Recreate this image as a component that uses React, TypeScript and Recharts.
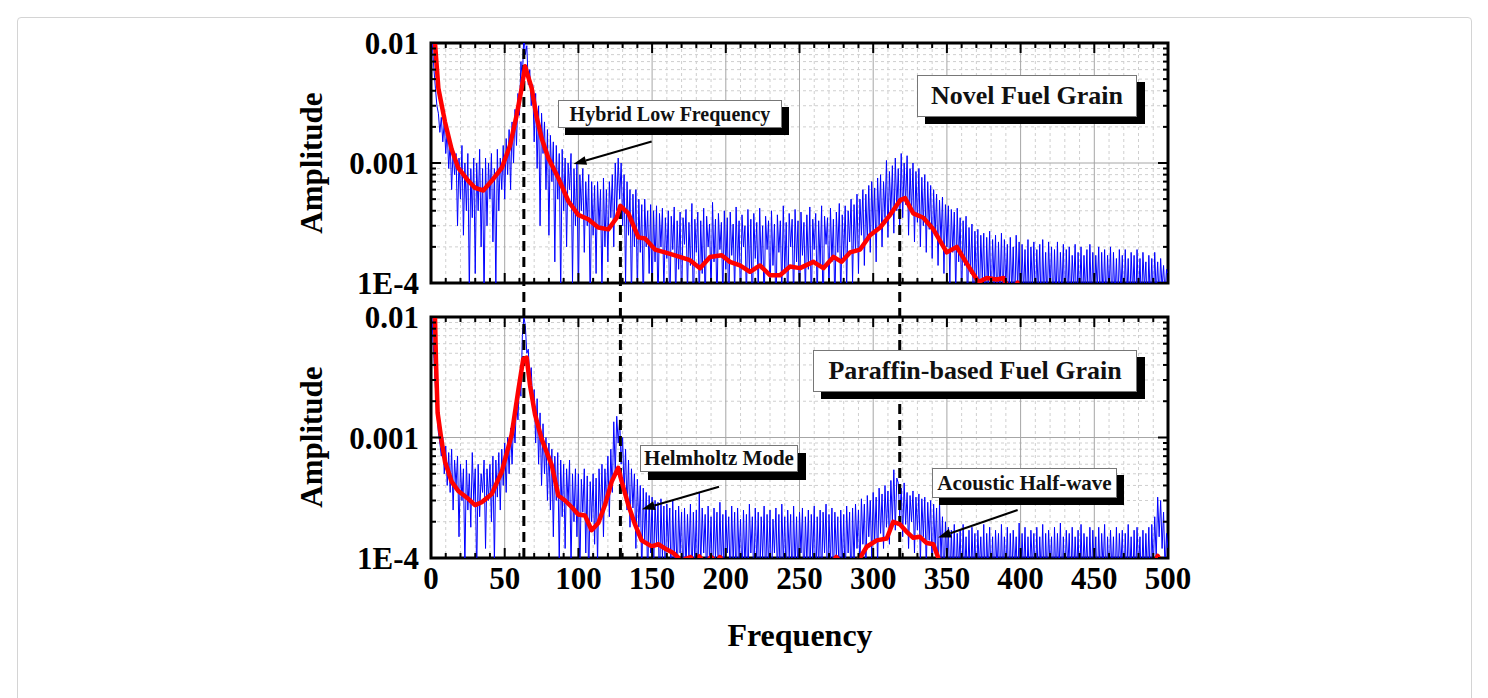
import React from "react";
import {
  LineChart,
  Line,
  XAxis,
  YAxis,
  CartesianGrid,
  ReferenceLine,
  ReferenceArea,
} from "recharts";

const FONT = '"Liberation Serif", "Times New Roman", serif';
const UNIT = 1e-4;

// raw spectra, one value per 1 Hz bin from 0 to 500 Hz, amplitude in units of 1E-4
const novelSpectrum = [
  140, 95, 60, 42, 30, 26, 18, 24, 15, 22,
  12, 19, 9, 15, 6, 13, 8, 12, 3, 11,
  5, 14, 2.5, 10, 4, 12, 0.8, 9, 3.5, 11,
  1.2, 10, 4, 13, 2, 9, 0.7, 11, 3, 10,
  5, 12, 2.2, 9, 0.9, 13, 4, 11, 6, 14,
  5, 16, 8, 19, 6, 22, 10, 28, 14, 38,
  25, 70, 50, 120, 80, 95, 45, 60, 30, 45,
  15, 38, 9, 30, 3, 26, 12, 22, 6, 19,
  2.5, 17, 7, 15, 1.5, 14, 5, 12, 0.8, 13,
  4, 11, 2, 10, 6, 12, 1, 9, 3, 10,
  0.7, 8, 4, 9, 1.8, 7, 3, 8, 0.6, 7,
  2.5, 6.5, 1.2, 7, 3, 6, 0.8, 7.5, 2, 6,
  1.5, 7, 3.5, 8, 2, 10, 4, 11, 5, 10,
  3, 8, 1, 7, 2.5, 6, 0.7, 5.5, 2, 6,
  0.8, 5, 1.8, 4.5, 0.6, 5, 2, 4, 1.2, 4.5,
  0.7, 4, 1.5, 4.4, 0.6, 3.8, 2, 4.2, 0.8, 3.5,
  1.6, 4, 0.5, 3.6, 1.9, 4.3, 0.7, 3.3, 1.3, 3.9,
  0.6, 3.5, 2.1, 4.1, 0.8, 3.2, 1.4, 4.6, 0.5, 3.4,
  1.8, 3.9, 0.7, 3.3, 1.2, 4.2, 0.6, 3.6, 2, 3.1,
  0.8, 4.7, 1.5, 3.4, 0.6, 3.8, 1.9, 3.2, 0.7, 4,
  1.3, 3.5, 0.5, 3.9, 1.7, 3.1, 0.8, 4.3, 1.4, 3.3,
  0.6, 3.7, 2, 3, 0.7, 4.1, 1.2, 3.4, 0.5, 3.8,
  1.6, 3.2, 0.8, 4.2, 1.3, 3, 0.6, 3.6, 1.9, 3.3,
  0.7, 4, 1.4, 3.1, 0.5, 3.7, 1.8, 3.3, 0.8, 4.4,
  1.2, 3.2, 0.6, 3.8, 2, 3.4, 0.7, 4.1, 1.5, 3.3,
  0.5, 3.9, 1.7, 3.2, 0.8, 3.7, 1.3, 4.3, 0.6, 3.4,
  1.9, 3.8, 0.7, 3.3, 1.4, 4.4, 0.5, 3.6, 2.1, 3.5,
  0.8, 4.2, 1.5, 3.4, 0.6, 3.9, 1.8, 4.6, 0.7, 3.7,
  1.6, 4.4, 0.9, 4, 2.2, 5, 1, 4.5, 1.8, 5.5,
  1.2, 5, 2.5, 6, 1.4, 5.5, 2.2, 6.5, 1.8, 7,
  2.6, 6.2, 1.5, 7.5, 3, 8, 2, 7, 3.5, 10.5,
  2.4, 8.5, 3.8, 9.5, 2.6, 11, 4, 9, 2.8, 12,
  3.5, 10, 4.5, 11.5, 2.5, 9, 3.8, 10, 2.2, 8.5,
  3.2, 9, 2, 7.6, 3, 8, 1.8, 7, 2.8, 6.5,
  1.6, 6, 2.5, 5.5, 1.4, 4.9, 2.2, 5.2, 1.2, 4.5,
  2, 4.4, 1, 4.1, 1.8, 3.9, 0.8, 4.2, 1.5, 3.5,
  0.7, 3.3, 1.4, 3.6, 0.6, 2.9, 1.2, 3.1, 0.5, 2.7,
  1, 2.8, 0.6, 2.5, 1.1, 2.6, 0.5, 2.4, 0.9, 2.7,
  0.6, 2.3, 1, 2.5, 0.5, 2.2, 0.8, 2.6, 0.6, 2.3,
  0.9, 2.1, 0.5, 2.4, 0.8, 2, 0.6, 2.5, 0.9, 2.2,
  0.5, 2.1, 0.8, 1.9, 0.6, 2.3, 0.5, 2, 0.9, 2.2,
  0.6, 1.9, 0.8, 2.1, 0.5, 2.3, 0.7, 1.8, 0.6, 2.2,
  0.9, 2, 0.5, 1.9, 0.7, 2.2, 0.6, 1.8, 0.8, 2.1,
  0.5, 1.9, 0.7, 2, 0.6, 1.7, 0.9, 2.1, 0.5, 1.8,
  0.7, 2, 0.6, 1.7, 0.8, 1.9, 0.5, 2.1, 0.7, 1.8,
  0.6, 1.7, 0.9, 2, 0.5, 1.8, 0.7, 1.9, 0.6, 1.7,
  0.8, 2, 0.5, 1.8, 0.7, 1.6, 0.6, 1.9, 0.8, 1.7,
  0.5, 1.9, 0.7, 1.6, 0.6, 1.8, 0.8, 1.7, 0.5, 1.9,
  0.7, 1.6, 0.6, 1.8, 0.9, 1.5, 0.5, 1.7, 0.7, 1.6,
  0.6, 1.8, 0.8, 1.5, 0.7, 1.6, 0.9, 1.4, 0.8, 1.3,
  1.1,
];

const paraffinSpectrum = [
  140, 80, 45, 26, 16, 11, 9, 7, 10, 5,
  8.5, 4, 7.5, 3.5, 8, 2.5, 6.5, 4, 7, 1.5,
  6, 3, 5.5, 0.8, 6.5, 2.5, 5, 1.8, 7.5, 3,
  5.5, 0.7, 6, 2.2, 5, 3.5, 6.5, 1.2, 5.5, 3,
  6, 2, 7, 0.9, 6.5, 3.2, 7.5, 2.5, 8, 4,
  9, 3.5, 10, 5, 12, 6, 13.5, 9, 20, 14,
  30, 22, 70, 100, 85, 50, 54, 30, 38, 18,
  25, 9, 21, 6, 16, 4, 13, 5, 10, 3,
  9, 2.5, 8, 1.5, 7, 3, 7.5, 0.9, 6.5, 2.2,
  6, 1.2, 5.5, 2.8, 6.5, 0.8, 5, 2, 5.5, 1.5,
  5, 0.7, 4.5, 2.4, 5.5, 1.1, 4.8, 0.6, 4.3, 2,
  5, 1.3, 4.6, 0.9, 5.5, 2.2, 6, 1.5, 5.5, 2.8,
  7, 2.2, 8, 3.5, 13.5, 5, 15, 9, 14, 6,
  10, 3.5, 8, 2.5, 6.5, 1.8, 5.5, 2.6, 5, 1.2,
  4.5, 1.8, 4, 0.7, 3.8, 1.4, 3.5, 0.6, 3.3, 1.1,
  3.2, 0.7, 3, 1.3, 2.9, 0.5, 3.1, 1, 2.7, 0.6,
  2.8, 1.2, 2.6, 0.5, 3, 0.9, 2.5, 0.6, 2.7, 1.1,
  2.4, 0.5, 2.6, 0.8, 2.3, 1, 2.8, 0.6, 2.4, 0.9,
  2.5, 0.5, 3.5, 0.8, 2.6, 1.1, 2.3, 0.6, 2.7, 0.9,
  2.2, 0.5, 2.6, 1, 2.4, 0.6, 2.9, 0.8, 2.3, 0.5,
  2.5, 1.1, 2.2, 0.6, 2.7, 0.9, 2.4, 0.5, 2.6, 1,
  2.1, 0.6, 2.5, 0.8, 2.3, 0.5, 2.8, 1.1, 2.2, 0.6,
  2.6, 0.9, 2.4, 0.5, 2.2, 1, 2.7, 0.6, 2.3, 0.8,
  2.5, 0.5, 2.1, 1.1, 2.6, 0.7, 2.3, 0.5, 2.8, 0.9,
  2.2, 0.6, 2.5, 1, 2.3, 0.5, 2.7, 0.8, 2.2, 0.6,
  2.4, 1.1, 2.6, 0.5, 2.2, 0.9, 2.5, 0.6, 2.3, 1,
  2.7, 0.5, 2.2, 0.8, 2.5, 0.6, 2.4, 1.1, 2.8, 0.5,
  2.3, 0.9, 2.6, 0.6, 2.4, 1, 2.2, 0.5, 2.5, 0.8,
  2.3, 0.6, 2.7, 1.1, 2.4, 0.5, 2.6, 0.9, 2.8, 1.2,
  2.5, 0.8, 3.1, 1.3, 2.8, 0.7, 3.3, 1.5, 3, 1,
  3.5, 1.4, 3.2, 0.9, 3.8, 1.6, 3.4, 1.2, 4, 1.8,
  3.6, 1.3, 4.4, 2, 5.4, 1.7, 4.6, 4.2, 2.2, 3.8,
  1.5, 4.2, 1.9, 3.5, 1.2, 3.3, 2, 3.6, 1.1, 3.2,
  1.7, 3.4, 0.9, 3.1, 1.5, 3.2, 0.8, 2.9, 1.4, 3,
  0.7, 2.8, 1.2, 2.6, 0.6, 2.9, 1, 2.2, 0.5, 2,
  0.8, 1.8, 0.5, 1.7, 0.7, 1.9, 0.5, 1.6, 0.8, 1.7,
  0.5, 1.9, 0.7, 1.5, 0.6, 1.7, 0.5, 1.8, 0.7, 1.6,
  0.5, 1.7, 0.8, 1.5, 0.6, 1.9, 0.5, 1.6, 0.7, 1.8,
  0.6, 1.5, 0.5, 1.7, 0.8, 1.6, 0.5, 1.9, 0.6, 1.5,
  0.7, 1.8, 0.5, 1.6, 0.6, 1.7, 0.8, 1.5, 0.5, 1.95,
  0.6, 1.6, 0.7, 1.8, 0.5, 1.5, 0.6, 1.7, 0.8, 1.6,
  0.5, 1.8, 0.6, 1.5, 0.7, 1.9, 0.5, 1.6, 0.6, 1.7,
  0.8, 1.5, 0.5, 1.8, 0.6, 1.6, 0.7, 1.95, 0.5, 1.5,
  0.6, 1.7, 0.8, 1.6, 0.5, 1.8, 0.6, 1.5, 0.7, 1.7,
  0.5, 1.9, 0.6, 1.6, 0.8, 1.5, 0.5, 1.8, 0.6, 1.7,
  0.7, 1.5, 0.5, 1.8, 0.6, 1.6, 0.8, 1.9, 0.5, 1.5,
  0.6, 1.7, 0.7, 1.5, 0.5, 1.8, 0.6, 1.6, 0.8, 1.7,
  0.5, 1.6, 0.6, 1.9, 0.7, 1.5, 0.5, 1.7, 0.6, 1.8,
  0.8, 1.5, 0.5, 1.7, 0.6, 1.6, 0.7, 1.8, 0.5, 1.9,
  0.8, 2.2, 1, 3.2, 1.5, 3, 1.2, 2.4, 0.8, 1.6,
  1.2,
];

// smoothed curves (red), frequency in Hz and amplitude in units of 1E-4
const novelSmoothFreq = [
  1, 2.7, 5, 9.5, 14, 18.5, 25.3, 29.9, 35.5, 41.2, 48, 53.6, 58.1, 61.5, 63.8,
  68.3, 71.7, 75.1, 79.6, 86.4, 93.2, 99.9, 106.7, 113.5, 120.3, 126, 128.5,
  133.9, 140.7, 145.2, 152, 158.7, 165.5, 175.7, 182.5, 189.3, 197.2, 202.8,
  209.6, 216.4, 223.2, 230, 236.8, 243.5, 250.3, 259.4, 266.2, 273, 278.6,
  284.3, 291.1, 297.9, 304.7, 311.5, 318.3, 321.6, 327.2, 334, 340.8, 349.9,
  356.7, 363.5, 371.4, 377.1, 383.9, 388.4, 390.7, 396, 398, 401, 440, 500,
];
const novelSmoothAmp = [
  130, 100, 42, 22, 13, 9.1, 7.1, 6.2, 5.9, 7.1, 9.1, 14, 25, 42, 64,
  42, 24, 16, 11, 7.5, 4.8, 3.7, 3.4, 2.9, 2.8, 3.5, 4.4,
  3.8, 2.4, 2.35, 1.9, 1.8, 1.7, 1.55, 1.33, 1.65, 1.7, 1.5,
  1.4, 1.24, 1.4, 1.16, 1.16, 1.37, 1.33, 1.5, 1.33, 1.65, 1.5,
  1.8, 1.9, 2.5, 2.9, 3.7, 4.9, 5.1, 3.8, 3.5, 2.8, 1.8,
  2.0, 1.45, 1.02, 1.1, 1.07, 1.1, 0.95, 0.9, 1.01, 0.85, 0.7, 0.7,
];

const paraffinSmoothFreq = [
  1, 2.7, 3.4, 4.5, 7, 9.5, 14, 18.5, 25.3, 29.9, 34.4, 41.2, 48, 54.7, 59.3,
  62.6, 64.9, 67.2, 70.6, 75.1, 81.9, 86.4, 90.9, 95.4, 99.9, 104.5, 109,
  113.5, 118, 122.6, 127, 129.4, 133.9, 138.4, 142.9, 149.7, 154.2, 158.7,
  164.4, 170, 176, 179, 182, 186, 190, 194, 196, 200, 230, 270, 275, 280,
  287, 291, 295.6, 302.4, 309.2, 313.6, 318.2, 322.7, 327.2, 331.7, 336.3,
  340.8, 344.2, 348, 400, 480, 490, 493, 496, 500,
];
const paraffinSmoothAmp = [
  160, 100, 42, 16, 9.7, 6.3, 4.3, 3.6, 3.1, 2.75, 2.9, 3.4, 5.2, 10.5, 25,
  45, 46, 27, 15.5, 9.7, 5.9, 3.3, 3.0, 2.65, 2.3, 2.25, 1.7,
  1.95, 2.75, 4.3, 5.6, 4.3, 2.75, 1.9, 1.4, 1.25, 1.3, 1.2,
  1.1, 0.95, 1.02, 0.9, 1.03, 0.9, 1.02, 0.9, 1.02, 0.85, 0.8, 0.85, 1.02, 0.85,
  0.9, 1.0, 1.24, 1.4, 1.45, 2.0, 1.9, 1.65, 1.47, 1.5, 1.33,
  1.3, 1.0, 0.75, 0.7, 0.75, 0.85, 1.04, 0.9, 0.8,
];

const xMajorTicks = [0, 50, 100, 150, 200, 250, 300, 350, 400, 450, 500];
const xMinorTicks = [
  10, 20, 30, 40, 60, 70, 80, 90, 110, 120, 130, 140, 160, 170, 180, 190,
  210, 220, 230, 240, 260, 270, 280, 290, 310, 320, 330, 340, 360, 370, 380,
  390, 410, 420, 430, 440, 460, 470, 480, 490,
];
const yMajorTicks = [1e-4, 1e-3, 1e-2];
const yMajorLabels = ["1E-4", "0.001", "0.01"];
const yMinorTicks = [
  2e-4, 3e-4, 4e-4, 5e-4, 6e-4, 7e-4, 8e-4, 9e-4,
  2e-3, 3e-3, 4e-3, 5e-3, 6e-3, 7e-3, 8e-3, 9e-3,
];

// dashed mode markers: frequency, and where the marker starts in the upper panel (units of 1E-4)
const modeFreqs = [63, 128.5, 318];
const modeTopInNovel = [100, 4.4, 5];

// arrows: [fromFreq, fromAmp, toFreq, toAmp] (amp in units of 1E-4)
const novelArrows = [[149.7, 15.1, 96.6, 9.8]];
const paraffinArrows = [
  [195.4, 3.9, 143.1, 2.54],
  [398, 2.5, 344, 1.48],
];

// layout
const PLOT_L = 431;
const PLOT_R = 1168;
const TOP1 = 43;
const BOT1 = 283;
const TOP2 = 317;
const BOT2 = 558;
const PLOT_W = PLOT_R - PLOT_L;
const GAP_TOP_VALUE = 1e-2 * Math.pow(10, (TOP2 - BOT1) / ((BOT2 - TOP2) / 2));

const toSpectrum = (vals: number[]) => vals.map((v, i) => ({ f: i, a: v * UNIT }));
const toSmooth = (fs: number[], as: number[]) => fs.map((f, i) => ({ f, a: as[i] * UNIT }));

const novelRaw = toSpectrum(novelSpectrum);
const paraffinRaw = toSpectrum(paraffinSpectrum);
const novelSmooth = toSmooth(novelSmoothFreq, novelSmoothAmp);
const paraffinSmooth = toSmooth(paraffinSmoothFreq, paraffinSmoothAmp);

const xAllTicks = [...xMajorTicks, ...xMinorTicks].sort((a, b) => a - b);
const yAllTicks = [...yMajorTicks, ...yMinorTicks].sort((a, b) => a - b);

const XTick = (props: any) => {
  const { x, y, payload, plotHeight, showLabel } = props;
  const v = payload.value;
  const major = xMajorTicks.includes(v);
  const len = major ? 10 : 5;
  const top = y - plotHeight;
  return (
    <g>
      <line x1={x} y1={y} x2={x} y2={y - len} stroke="#000" strokeWidth={2} />
      <line x1={x} y1={top} x2={x} y2={top + len} stroke="#000" strokeWidth={2} />
      {showLabel && major && (
        <text x={x} y={y + 31} textAnchor="middle" fontFamily={FONT} fontWeight="bold" fontSize={31} fill="#000">
          {v}
        </text>
      )}
    </g>
  );
};

const YTick = (props: any) => {
  const { x, y, payload } = props;
  const v = payload.value;
  const idx = yMajorTicks.findIndex((t) => Math.abs(t - v) < v * 1e-6);
  const len = idx >= 0 ? 10 : 5;
  return (
    <g>
      <line x1={x} y1={y} x2={x + len} y2={y} stroke="#000" strokeWidth={2} />
      <line x1={x + PLOT_W} y1={y} x2={x + PLOT_W - len} y2={y} stroke="#000" strokeWidth={2} />
      {idx >= 0 && (
        <text x={x - 12} y={y + 11} textAnchor="end" fontFamily={FONT} fontWeight="bold" fontSize={31} fill="#000">
          {yMajorLabels[idx]}
        </text>
      )}
    </g>
  );
};

const Arrow = (props: any) => {
  const { x1, y1, x2, y2 } = props;
  const ang = Math.atan2(y2 - y1, x2 - x1);
  const L = 13;
  const W = 4.5;
  const bx = x2 - L * Math.cos(ang);
  const by = y2 - L * Math.sin(ang);
  const pts = `${x2},${y2} ${bx - W * Math.sin(ang)},${by + W * Math.cos(ang)} ${bx + W * Math.sin(ang)},${by - W * Math.cos(ang)}`;
  return (
    <g>
      <line x1={x1} y1={y1} x2={bx} y2={by} stroke="#000" strokeWidth={2} />
      <polygon points={pts} fill="#000" />
    </g>
  );
};

function Panel({
  raw,
  smooth,
  arrows,
  height,
  top,
  bottom,
  showXLabels,
  modeTops,
  gapLines,
}: any) {
  const plotHeight = bottom - top;
  return (
    <LineChart
      width={1488}
      height={height}
      margin={{ top, right: 1488 - PLOT_R, left: 0, bottom: 0 }}
    >
      <CartesianGrid
        stroke="#cfcfcf"
        strokeDasharray="3 3"
        verticalValues={xMinorTicks}
        horizontalValues={yMinorTicks}
      />
      <CartesianGrid stroke="#a6a6a6" verticalValues={xMajorTicks.slice(1, -1)} horizontalValues={[1e-3]} />
      <XAxis
        dataKey="f"
        type="number"
        domain={[0, 500]}
        allowDataOverflow
        ticks={xAllTicks}
        interval={0}
        height={height - bottom}
        axisLine={false}
        tickLine={false}
        tickSize={0}
        tickMargin={0}
        tick={<XTick plotHeight={plotHeight} showLabel={showXLabels} />}
      />
      <YAxis
        dataKey="a"
        scale="log"
        type="number"
        domain={[1e-4, 1e-2]}
        allowDataOverflow
        ticks={yAllTicks}
        interval={0}
        width={PLOT_L}
        axisLine={false}
        tickLine={false}
        tickSize={0}
        tickMargin={0}
        tick={<YTick />}
      />
      <Line
        data={raw}
        dataKey="a"
        type="linear"
        stroke="#0000ff"
        strokeWidth={1}
        dot={false}
        isAnimationActive={false}
      />
      {modeFreqs.map((f, i) =>
        modeTops ? (
          <ReferenceLine
            key={`m${i}`}
            segment={[
              { x: f, y: 1e-4 },
              { x: f, y: modeTops[i] * UNIT },
            ]}
            stroke="#000"
            strokeWidth={3}
            strokeDasharray="10 6"
            ifOverflow="visible"
          />
        ) : null
      )}
      {gapLines &&
        modeFreqs.map((f, i) => (
          <ReferenceLine
            key={`g${i}`}
            segment={[
              { x: f, y: 1e-4 },
              { x: f, y: GAP_TOP_VALUE },
            ]}
            stroke="#000"
            strokeWidth={3}
            strokeDasharray="10 6"
            ifOverflow="visible"
          />
        ))}
      <Line
        data={smooth}
        dataKey="a"
        type="linear"
        stroke="#ff0000"
        strokeWidth={4.5}
        strokeLinejoin="round"
        dot={false}
        isAnimationActive={false}
      />
      <ReferenceArea
        x1={0}
        x2={500}
        y1={1e-4}
        y2={1e-2}
        fill="none"
        fillOpacity={0}
        stroke="#000"
        strokeWidth={3}
        ifOverflow="visible"
      />
      {arrows.map((a: number[], i: number) => (
        <ReferenceLine
          key={`a${i}`}
          segment={[
            { x: a[0], y: a[1] * UNIT },
            { x: a[2], y: a[3] * UNIT },
          ]}
          shape={Arrow}
          ifOverflow="visible"
        />
      ))}
    </LineChart>
  );
}

const boxStyle = (left: number, top: number, width: number, height: number, fontSize: number, shadowX: number, shadowY: number): React.CSSProperties => ({
  position: "absolute",
  left,
  top,
  width,
  height,
  boxSizing: "border-box",
  background: "#fff",
  border: "1px solid #777",
  boxShadow: `${shadowX}px ${shadowY}px 0 #000`,
  fontFamily: FONT,
  fontWeight: "bold",
  fontSize,
  display: "flex",
  alignItems: "center",
  justifyContent: "center",
  whiteSpace: "nowrap",
  color: "#111",
});

export default function App() {
  return (
    <div style={{ position: "absolute", left: 0, top: 0, width: 1488, height: 698, background: "#fff", overflow: "hidden" }}>
      <div
        style={{
          position: "absolute",
          left: 17,
          top: 17,
          width: 1453,
          height: 720,
          border: "1px solid #d4d4d4",
          borderRadius: 4,
        }}
      />
      <div style={{ position: "absolute", left: 0, top: 0 }}>
        <Panel
          raw={novelRaw}
          smooth={novelSmooth}
          arrows={novelArrows}
          height={300}
          top={TOP1}
          bottom={BOT1}
          showXLabels={false}
          modeTops={modeTopInNovel}
          gapLines={false}
        />
      </div>
      <div style={{ position: "absolute", left: 0, top: 0 }}>
        <Panel
          raw={paraffinRaw}
          smooth={paraffinSmooth}
          arrows={paraffinArrows}
          height={698}
          top={TOP2}
          bottom={BOT2}
          showXLabels={true}
          modeTops={null}
          gapLines={true}
        />
      </div>
      {[163, 437].map((cy) => (
        <div
          key={cy}
          style={{
            position: "absolute",
            left: 312,
            top: cy,
            transform: "translate(-50%, -50%) rotate(-90deg)",
            fontFamily: FONT,
            fontWeight: "bold",
            fontSize: 31,
            whiteSpace: "nowrap",
          }}
        >
          Amplitude
        </div>
      ))}
      <div
        style={{
          position: "absolute",
          left: 800,
          top: 635,
          transform: "translate(-50%, -50%)",
          fontFamily: FONT,
          fontWeight: "bold",
          fontSize: 32,
          whiteSpace: "nowrap",
        }}
      >
        Frequency
      </div>
      <div style={boxStyle(558, 100, 224, 28, 20, 7, 7)}>Hybrid Low Frequency</div>
      <div style={boxStyle(917, 75, 220, 42, 26, 8, 7)}>Novel Fuel Grain</div>
      <div style={boxStyle(813, 350, 324, 42, 26, 8, 7)}>Paraffin-based Fuel Grain</div>
      <div style={boxStyle(640, 445, 158, 27, 21, 8, 8)}>Helmholtz Mode</div>
      <div style={boxStyle(932, 468, 185, 30, 21, 7, 7)}>Acoustic Half-wave</div>
    </div>
  );
}
